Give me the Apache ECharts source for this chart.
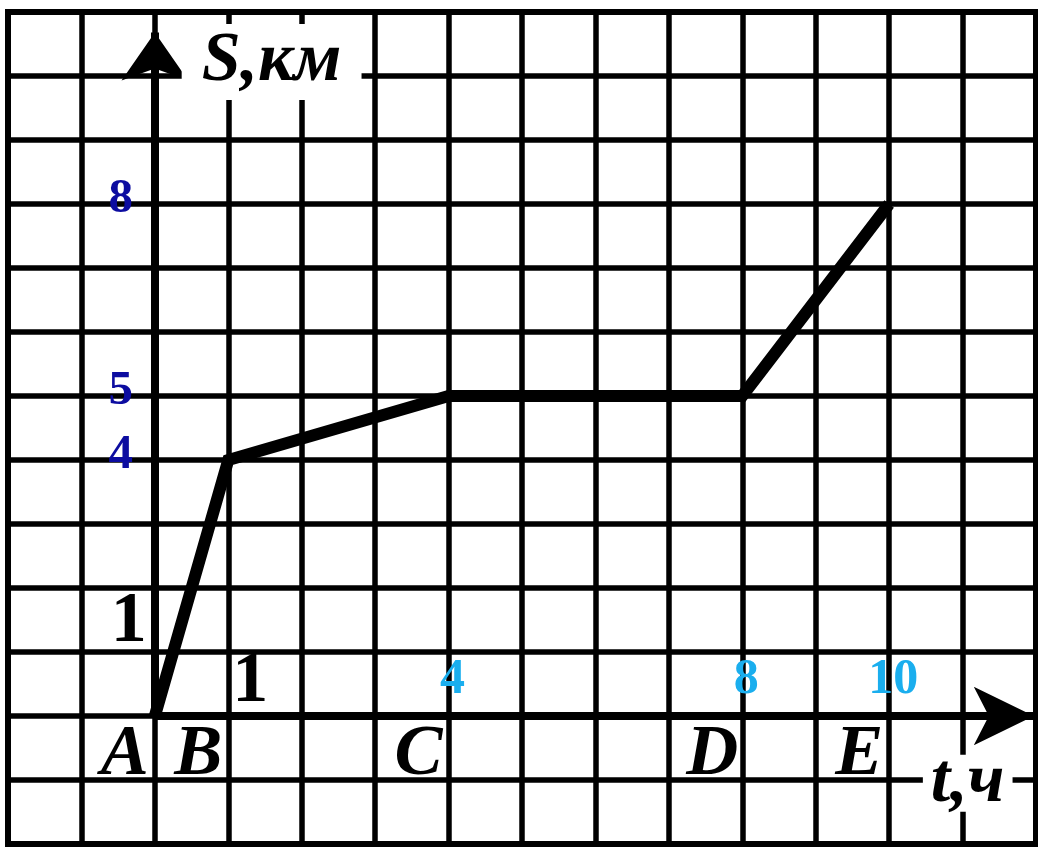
<!DOCTYPE html>
<html>
<head>
<meta charset="utf-8">
<script src="https://cdn.jsdelivr.net/npm/echarts@6/dist/echarts.min.js"></script>
<style>
html,body{margin:0;padding:0;background:#fff;}
#chart{width:1038px;height:849px;}
</style>
</head>
<body>
<div id="chart"></div>
<script>
// ---- data ----
const tValues = [0, 1, 4, 8, 10];          // t, ч
const sValues = [0, 4, 5, 5, 8];           // S, км
const pointNames = ['A', 'B', 'C', 'D', 'E'];
const sTicksBlue = [8, 5, 4];
const sTicksBlack = [1];
const tTicksBlack = [1];
const tTicksCyan = [4, 8, 10];
const sAxisName = 'S,км';
const tAxisName = 't,ч';

// ---- styles ----
const SERIF = '"Liberation Serif", "DejaVu Serif", serif';
const NAVY = '#0c0ca0';
const CYAN = '#1aaeee';

const chart = echarts.init(document.getElementById('chart'), null, {renderer: 'canvas'});

function labelSeries(name, data, fmt, label) {
  return {
    name: name, type: 'scatter', symbolSize: 0, silent: true, z: 10,
    itemStyle: {opacity: 1},
    data: data,
    label: Object.assign({
      show: true, position: 'inside', align: 'center', verticalAlign: 'middle',
      formatter: fmt, fontFamily: SERIF, fontWeight: 'bold', opacity: 1
    }, label)
  };
}

const option = {
  animation: false,
  backgroundColor: '#fff',
  grid: {left: 8, right: 2, top: 12, bottom: 5, show: true, borderColor: '#000', borderWidth: 6, backgroundColor: 'transparent'},
  xAxis: {
    type: 'value', min: -2, max: 12, interval: 1,
    axisLine: {show: false}, axisTick: {show: false}, axisLabel: {show: false},
    splitLine: {show: true, lineStyle: {color: '#000', width: 5.5}}
  },
  yAxis: {
    type: 'value', min: -2, max: 11, interval: 1,
    axisLine: {show: false}, axisTick: {show: false}, axisLabel: {show: false},
    splitLine: {show: true, lineStyle: {color: '#000', width: 5.5}}
  },
  series: [
    {
      name: 'S(t)', type: 'line', z: 5,
      data: tValues.map((t, i) => [t, sValues[i]]),
      showSymbol: false, symbol: 'none',
      lineStyle: {color: '#000', width: 12, join: 'miter', cap: 'butt'},
      markLine: {
        silent: true, animation: false, z: 6,
        symbol: ['none', 'arrow'],
        label: {show: false},
        lineStyle: {color: '#000', width: 8, type: 'solid', opacity: 1},
        data: [
          [{coord: [0, 0]}, {coord: [11.97, 0], symbol: 'arrow', symbolSize: [44, 60]}],
          [{coord: [0, 0]}, {coord: [0, 10.68], symbol: 'arrow', symbolSize: [50, 48]}]
        ]
      }
    },
    labelSeries('points', tValues.map(t => [t, 0]),
      p => pointNames[p.dataIndex],
      {color: '#000', fontSize: 72, fontStyle: 'italic', offset: [-30, 39]}),
    labelSeries('sTicksBlue', sTicksBlue.map(v => [0, v]),
      p => String(p.value[1]),
      {color: NAVY, fontSize: 49, offset: [-34, -5]}),
    labelSeries('sTicksBlack', sTicksBlack.map(v => [0, v]),
      p => String(p.value[1]),
      {color: '#000', fontSize: 72, offset: [-26, -30]}),
    labelSeries('tTicksBlack', tTicksBlack.map(v => [v, 0]),
      p => String(p.value[0]),
      {color: '#000', fontSize: 72, offset: [22, -34]}),
    labelSeries('tTicksCyan', tTicksCyan.map(v => [v, 0]),
      p => String(p.value[0]),
      {color: CYAN, fontSize: 50, offset: [4, -36]}),
    labelSeries('sName', [[1.59, 10.22]], () => sAxisName,
      {color: '#000', fontSize: 70, fontStyle: 'italic', backgroundColor: '#fff',
       lineHeight: 62, padding: [8, 20, 6, 20]}),
    labelSeries('tName', [[11.07, -1.05]], () => tAxisName,
      {color: '#000', fontSize: 70, fontStyle: 'italic', backgroundColor: '#fff',
       lineHeight: 52, padding: [3, 8, 2, 8]})
  ]
};
chart.setOption(option);
</script>
</body>
</html>
